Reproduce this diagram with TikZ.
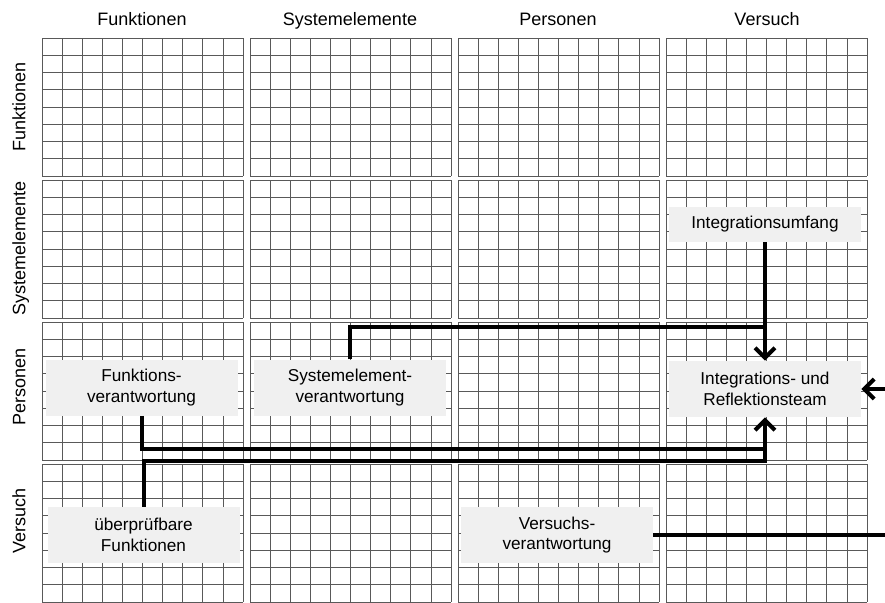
\documentclass[tikz,border=0pt]{standalone}
\usepackage{fontspec}
\setmainfont{Liberation Sans}
\usetikzlibrary{arrows.meta}

\begin{document}
\begin{tikzpicture}[x=0.5pt,y=-0.5pt,
	gridline/.style={black!65, line width=0.4pt},
	head/.style={font=\fontsize{9}{11}\selectfont, text height=1.6ex, text depth=0.4ex},
	field/.style={fill=black!6, inner sep=0pt, minimum width=96pt, minimum height=28pt,
		align=center, font=\fontsize{8.6}{10.3}\selectfont},
	link/.style={line width=2pt},
	conn/.style={link, -{Straight Barb[length=5pt,width=10pt]}},
	]
	\clip (0,0) rectangle (885,602);
	\fill[white] (0,0) rectangle (885,602);

	\foreach \c in {42,250,458,666} {
		\foreach \r in {38,180,322,464} {
			\foreach \i in {0,...,10}
				\draw[gridline] (\c+\i*20.1,\r) -- (\c+\i*20.1,\r+138);
			\foreach \j in {0,...,8}
				\draw[gridline] (\c,\r+\j*17.25) -- (\c+201,\r+\j*17.25);
		}
	}

	\node[head] (colF) at (142,19) {Funktionen};
	\node[head] (colS) at (350,19) {Systemelemente};
	\node[head] (colP) at (558,19) {Personen};
	\node[head] (colV) at (767,19) {Versuch};
	\node[head, rotate=90] (rowF) at (19,107) {Funktionen};
	\node[head, rotate=90] (rowS) at (19,248) {Systemelemente};
	\node[head, rotate=90] (rowP) at (19,387) {Personen};
	\node[head, rotate=90] (rowV) at (19,521) {Versuch};

	\node[field] (funkv) at (141.5,387.5) {Funktions-\\verantwortung};
	\node[field] (sysv) at (350,387.5) {Systemelement-\\verantwortung};
	\node[field, minimum height=17.5pt] (umfang) at (765,224.5) {Integrationsumfang};
	\node[field] (team) at (765,389) {Integrations- und\\Reflektionsteam};
	\node[field] (pruef) at (143.5,535) {überprüfbare\\Funktionen};
	\node[field] (versv) at (557,535) {Versuchs-\\verantwortung};

	\coordinate (jtop) at (team.north |- 0,327);
	\coordinate (jmid) at (team.south |- 0,449);
	\coordinate (jlow) at (team.south |- 0,461);
	\coordinate (rin) at (885,389);
	\coordinate (rout) at (885,535);

	\draw[conn] (umfang) -- (team);
	\draw[link] (sysv.north) |- (jtop);
	\draw[link] (funkv.south) |- (jmid);
	\draw[conn] (pruef.north) |- (jlow) -- (team.south);
	\draw[conn] (rin) -- (team.east);
	\draw[link] (versv.east) -- (rout);
\end{tikzpicture}
\end{document}
